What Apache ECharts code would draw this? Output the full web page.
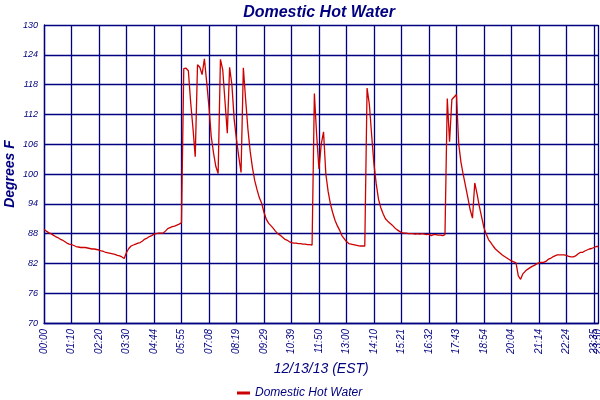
<!DOCTYPE html>
<html>
<head>
<meta charset="utf-8">
<script src="https://cdn.jsdelivr.net/npm/echarts@6/dist/echarts.min.js"></script>
<style>
  html, body { margin: 0; padding: 0; background: #ffffff; }
  #chart { width: 600px; height: 400px; }
</style>
</head>
<body>
<div id="chart"></div>
<script>
// Tick labels shown along the time axis (one every 12 samples, plus the final sample)
const timeLabels = ['00:00','01:10','02:20','03:30','04:44','05:55','07:08','08:19','09:29','10:39',
  '11:50','13:00','14:10','15:21','16:32','17:43','18:54','20:04','21:14','22:24','23:35','23:50'];
const samplesPerLabel = 12;

// Domestic hot water temperature, degrees F
const temps = [
  88.9, 88.5, 88.2, 88.0, 87.7, 87.4, 87.2, 86.9, 86.7, 86.4, 86.1, 85.9, 85.8,
  85.6, 85.4, 85.3, 85.2, 85.2, 85.2, 85.1, 85.0, 84.9, 84.9, 84.8, 84.7,
  84.5, 84.4, 84.2, 84.1, 84.0, 83.9, 83.8, 83.6, 83.5, 83.3, 83.0, 84.2,
  85.0, 85.5, 85.7, 85.9, 86.1, 86.2, 86.5, 86.9, 87.1, 87.4, 87.6, 87.9,
  88.0, 88.1, 88.1, 88.1, 88.5, 89.0, 89.2, 89.4, 89.5, 89.7, 89.9, 90.2,
  121.2, 121.3, 120.8, 114.5, 109.3, 103.5, 122.0, 121.5, 120.0, 123.2, 118.5, 113.5,
  107.5, 104.2, 101.5, 100.1, 123.1, 121.0, 114.6, 108.2, 121.5, 118.0, 111.0, 107.0,
  103.5, 100.3, 121.4, 115.0, 109.0, 104.5, 101.2, 98.6, 96.8, 95.2, 94.1, 92.3,
  90.9, 90.1, 89.6, 89.1, 88.5, 88.0, 87.7, 87.3, 86.9, 86.7, 86.4, 86.2,
  86.1, 86.1, 86.0, 86.0, 85.9, 85.9, 85.8, 85.8, 85.7, 116.2, 107.8, 101.0,
  106.0, 108.5, 100.0, 96.5, 94.0, 92.2, 90.7, 89.6, 88.7, 87.6, 87.0, 86.4,
  86.0, 85.9, 85.8, 85.7, 85.6, 85.5, 85.5, 85.5, 117.3, 114.0, 107.8, 102.0,
  98.0, 94.9, 93.2, 92.0, 91.0, 90.5, 90.1, 89.7, 89.2, 88.8, 88.5, 88.2,
  88.1, 88.1, 88.0, 88.0, 88.0, 87.9, 88.0, 87.9, 88.0, 87.9, 87.8, 87.9,
  87.6, 87.8, 87.8, 87.7, 87.7, 87.6, 87.8, 115.2, 106.5, 115.0, 115.5, 116.0,
  106.0, 102.3, 99.8, 97.5, 95.2, 92.8, 91.1, 98.2, 96.0, 93.5, 91.3, 89.2,
  87.9, 86.8, 86.2, 85.5, 84.9, 84.5, 84.1, 83.7, 83.4, 83.1, 82.8, 82.5,
  82.3, 82.1, 79.5, 78.8, 79.9, 80.4, 80.8, 81.1, 81.4, 81.6, 81.9, 82.1,
  82.2, 82.2, 82.4, 82.8, 83.0, 83.3, 83.5, 83.7, 83.7, 83.7, 83.7, 83.6,
  83.4, 83.3, 83.3, 83.5, 83.9, 84.2, 84.2, 84.5, 84.7, 84.9, 85.0, 85.2,
  85.4, 85.4
];

const yMin = 70, yMax = 130, yStep = 6;
const lastIndex = temps.length - 1;

function tickLabel(i) {
  if (i % samplesPerLabel === 0) return timeLabels[i / samplesPerLabel] || '';
  if (i === lastIndex) return timeLabels[timeLabels.length - 1];
  return '';
}
function isTick(i) { return tickLabel(i) !== ''; }
function isRegularTick(i) { return i % samplesPerLabel === 0; }

const categories = temps.map((_, i) => tickLabel(i) || ('#' + i));

const navy = '#000080';
const labelStyle = { color: navy, fontFamily: 'Liberation Sans', fontStyle: 'italic', fontSize: 10 };
const chart = echarts.init(document.getElementById('chart'), null, { renderer: 'canvas' });
chart.setOption({
  animation: false,
  backgroundColor: '#ffffff',
  title: {
    text: 'Domestic Hot Water',
    left: 314, top: 0, textAlign: 'center',
    textStyle: { color: navy, fontFamily: 'Liberation Sans', fontStyle: 'italic', fontWeight: 'bold', fontSize: 16 }
  },
  legend: {
    left: 232, top: 382,
    itemWidth: 13, itemHeight: 3, itemGap: 4,
    icon: 'rect',
    textStyle: { color: navy, fontFamily: 'Liberation Sans', fontStyle: 'italic', fontSize: 12 },
    data: ['Domestic Hot Water']
  },
  grid: { left: 44, right: 1.5, top: 25, bottom: 77, containLabel: false, outerBoundsMode: 'none' },
  xAxis: [{
    type: 'category',
    position: 'bottom',
    data: categories,
    boundaryGap: false,
    name: '12/13/13 (EST)',
    nameLocation: 'middle',
    nameGap: 39,
    nameMoveOverlap: false,
    nameTextStyle: { color: navy, fontFamily: 'Liberation Sans', fontStyle: 'italic', fontSize: 14 },
    axisLine: { show: true, lineStyle: { color: navy, width: 1.3 } },
    axisTick: { show: false },
    axisLabel: Object.assign({
      interval: (i) => isRegularTick(i),
      formatter: (v, i) => tickLabel(i),
      hideOverlap: false,
      showMinLabel: true,
      showMaxLabel: true,
      rotate: 90, margin: 6
    }, labelStyle),
    splitLine: { show: true, interval: (i) => isTick(i), lineStyle: { color: navy, width: 1.3 } }
  }, {
    // carries only the final time label, which overlaps 23:35 as in the reference
    type: 'category',
    position: 'bottom',
    data: categories,
    boundaryGap: false,
    axisLine: { show: false },
    axisTick: { show: false },
    splitLine: { show: false },
    axisLabel: Object.assign({
      interval: (i) => i === lastIndex,
      formatter: (v, i) => tickLabel(i),
      hideOverlap: false,
      showMinLabel: false,
      showMaxLabel: true,
      rotate: 90, margin: 6
    }, labelStyle)
  }],
  yAxis: {
    type: 'value',
    min: yMin, max: yMax, interval: yStep,
    name: 'Degrees F',
    nameLocation: 'middle',
    nameGap: 27,
    nameMoveOverlap: false,
    nameTextStyle: { color: navy, fontFamily: 'Liberation Sans', fontStyle: 'italic', fontWeight: 'bold', fontSize: 14 },
    axisLine: { show: true, lineStyle: { color: navy, width: 1.3 } },
    axisTick: { show: false },
    axisLabel: { color: navy, fontFamily: 'Liberation Sans', fontStyle: 'italic', fontSize: 9, margin: 6 },
    splitLine: { show: true, lineStyle: { color: navy, width: 1.3 } }
  },
  series: [{
    name: 'Domestic Hot Water',
    type: 'line',
    xAxisIndex: 0,
    data: temps,
    showSymbol: false,
    symbol: 'none',
    color: '#cc0000',
    lineStyle: { color: '#cc0000', width: 1.3 },
    itemStyle: { color: '#cc0000' }
  }]
});
</script>
</body>
</html>
